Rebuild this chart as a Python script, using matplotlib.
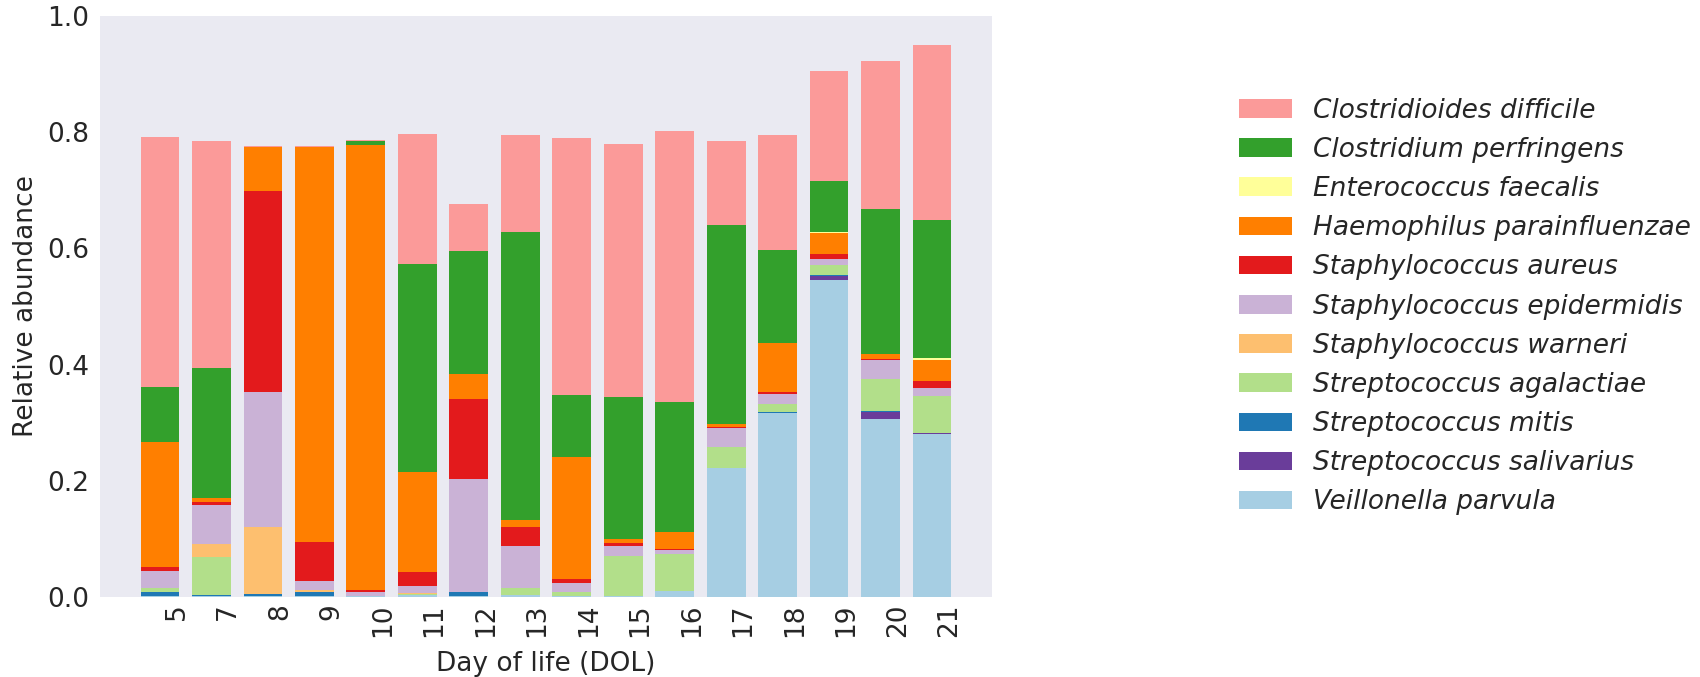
import matplotlib
matplotlib.use("Agg")
import matplotlib.pyplot as plt
import matplotlib.transforms as mtransforms
import numpy as np


DAYS = ["5", "7", "8", "9", "10", "11", "12", "13", "14", "15", "16", "17", "18", "19", "20", "21"]

# relative abundance per species, one value per sampled day
veillonella_parvula = [0.002, 0.002, 0.002, 0.002, 0.002, 0.003, 0.002, 0.003, 0.002, 0.002, 0.010, 0.222, 0.317, 0.546, 0.306, 0.281]
streptococcus_salivarius = [0, 0, 0, 0, 0, 0, 0, 0, 0, 0, 0, 0, 0, 0.007, 0.013, 0.002]
streptococcus_mitis = [0.007, 0.002, 0.003, 0.007, 0, 0, 0.007, 0, 0, 0, 0, 0, 0.002, 0.001, 0.001, 0]
streptococcus_agalactiae = [0.007, 0.064, 0, 0, 0, 0.002, 0, 0.012, 0.007, 0.069, 0.064, 0.036, 0.014, 0.017, 0.055, 0.063]
staphylococcus_warneri = [0, 0.024, 0.115, 0.003, 0, 0.002, 0, 0, 0, 0, 0, 0, 0, 0, 0, 0]
staphylococcus_epidermidis = [0.028, 0.067, 0.233, 0.016, 0.007, 0.012, 0.194, 0.073, 0.015, 0.017, 0.007, 0.033, 0.016, 0.011, 0.033, 0.014]
staphylococcus_aureus = [0.007, 0.004, 0.346, 0.067, 0.003, 0.024, 0.138, 0.032, 0.007, 0.005, 0.002, 0.002, 0.003, 0.008, 0.002, 0.012]
haemophilus_parainfluenzae = [0.215, 0.007, 0.075, 0.680, 0.766, 0.172, 0.043, 0.012, 0.210, 0.007, 0.029, 0.005, 0.086, 0.036, 0.008, 0.036]
enterococcus_faecalis = [0, 0, 0, 0, 0, 0, 0, 0, 0, 0, 0, 0, 0, 0.002, 0, 0.003]
clostridium_perfringens = [0.096, 0.225, 0, 0, 0.007, 0.358, 0.212, 0.4955, 0.107, 0.244, 0.224, 0.342, 0.159, 0.088, 0.250, 0.238]
clostridioides_difficile = [0.429, 0.389, 0.002, 0.002, 0.002, 0.224, 0.080, 0.167, 0.442, 0.436, 0.466, 0.145, 0.199, 0.189, 0.2545, 0.301]

# bottom of the stack first
SPECIES = [
    ("Veillonella parvula", veillonella_parvula, "#a6cee3"),
    ("Streptococcus salivarius", streptococcus_salivarius, "#6a3d9a"),
    ("Streptococcus mitis", streptococcus_mitis, "#1f78b4"),
    ("Streptococcus agalactiae", streptococcus_agalactiae, "#b2df8a"),
    ("Staphylococcus warneri", staphylococcus_warneri, "#fdbf6f"),
    ("Staphylococcus epidermidis", staphylococcus_epidermidis, "#cab2d6"),
    ("Staphylococcus aureus", staphylococcus_aureus, "#e31a1c"),
    ("Haemophilus parainfluenzae", haemophilus_parainfluenzae, "#ff7f00"),
    ("Enterococcus faecalis", enterococcus_faecalis, "#ffff99"),
    ("Clostridium perfringens", clostridium_perfringens, "#33a02c"),
    ("Clostridioides difficile", clostridioides_difficile, "#fb9a99"),
]

TEXT = "#262626"


def main():
    plt.rcParams["font.family"] = "DejaVu Sans"
    plt.rcParams["text.color"] = TEXT
    plt.rcParams["axes.labelcolor"] = TEXT
    plt.rcParams["xtick.color"] = TEXT
    plt.rcParams["ytick.color"] = TEXT

    fig = plt.figure(figsize=(17, 6.77), dpi=100)
    ax = fig.add_axes([100 / 1700, 80 / 677, 892 / 1700, 581 / 677])
    ax.set_facecolor("#eaeaf2")
    for spine in ax.spines.values():
        spine.set_visible(False)

    x = np.arange(len(DAYS))
    bottom = np.zeros(len(DAYS))
    handles = []
    for name, values, color in SPECIES:
        bars = ax.bar(x, values, width=0.75, bottom=bottom, color=color,
                      linewidth=0, label=name)
        bottom += np.array(values)
        handles.append(bars)

    ax.set_ylim(0, 1.0)
    ax.set_yticks([0, 0.2, 0.4, 0.6, 0.8, 1.0])
    ax.set_xticks(x)
    ax.set_xticklabels(DAYS, rotation=90)
    ax.tick_params(axis="both", length=0, labelsize=19)
    ax.tick_params(axis="x", pad=4.5)
    ax.tick_params(axis="y", pad=7.5)
    # labels sit a little right of the bar centres in the original
    shift = mtransforms.ScaledTranslation(0.17, 0, fig.dpi_scale_trans)
    for label in ax.get_xticklabels():
        label.set_transform(label.get_transform() + shift)

    ax.set_xlabel("Day of life (DOL)", fontsize=19, labelpad=10)
    ax.set_ylabel("Relative abundance", fontsize=19, labelpad=6.5)
    ax.set_title("Infant C", fontsize=20, pad=13)

    legend = ax.legend(handles[::-1], [s[0] for s in SPECIES][::-1],
                       loc="center left", bbox_to_anchor=(1.25, 0.5),
                       frameon=False, prop={"size": 19, "style": "italic"})
    for text in legend.get_texts():
        text.set_color(TEXT)

    fig.savefig("out.png", dpi=100)
    plt.close(fig)


if __name__ == "__main__":
    main()
